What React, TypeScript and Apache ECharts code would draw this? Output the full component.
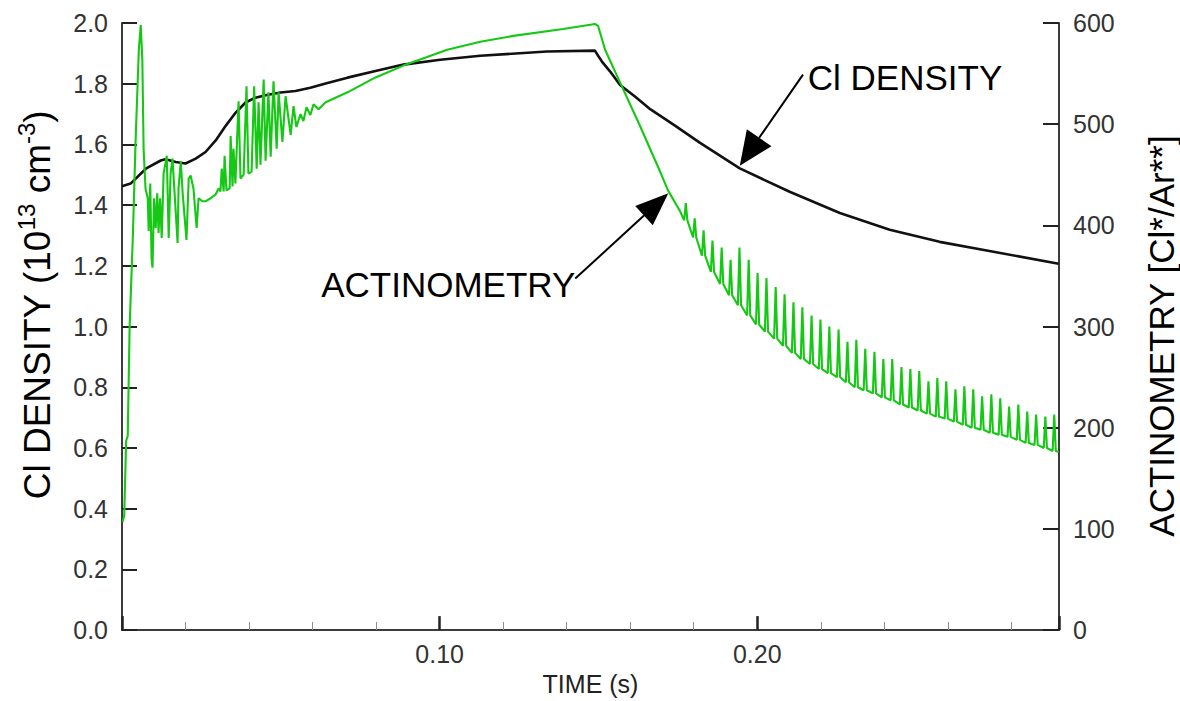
import React, { useEffect, useRef } from "react";
import * as echarts from "echarts";

// ---------- DATA ----------
// Cl density, left axis [10^13 cm^-3], time in s
const clDensity: [number, number][] = [
  [0.0, 1.462], [0.0027, 1.471], [0.0075, 1.52], [0.0122, 1.547], [0.0137, 1.551],
  [0.0169, 1.542], [0.02, 1.537], [0.0232, 1.553], [0.0263, 1.575], [0.0295, 1.613],
  [0.0327, 1.662], [0.0358, 1.705], [0.0389, 1.738], [0.042, 1.754], [0.0452, 1.762],
  [0.0499, 1.771], [0.0546, 1.776], [0.0593, 1.787], [0.0641, 1.801], [0.071, 1.82],
  [0.0798, 1.842], [0.0886, 1.863], [0.1002, 1.879], [0.1128, 1.892], [0.1338, 1.906],
  [0.1489, 1.909], [0.1499, 1.892], [0.1511, 1.873], [0.1537, 1.84], [0.1568, 1.796],
  [0.1616, 1.757], [0.1663, 1.716], [0.1741, 1.662], [0.182, 1.605], [0.1945, 1.521],
  [0.2102, 1.444], [0.226, 1.374], [0.2417, 1.319], [0.2574, 1.279], [0.2731, 1.249],
  [0.2949, 1.207],
];

// Actinometry, right axis [Cl*/Ar**]: start, early oscillations, rise, plateau, drop
const actinoEarly: [number, number][] = [
  [0.0002, 106.7], [0.0007, 113.5], [0.0013, 186.9], [0.0018, 191.8], [0.0024, 299.5],
  [0.0034, 387.6], [0.0043, 485.5], [0.0053, 573.6], [0.0059, 598.0], [0.0064, 563.8],
  [0.0068, 475.7], [0.0074, 436.5], [0.0081, 426.8], [0.0084, 394.5], [0.0089, 441.4],
  [0.0093, 368.0], [0.0096, 358.2], [0.0101, 426.8], [0.0106, 397.4], [0.0111, 431.7],
  [0.0115, 392.5], [0.012, 426.8], [0.0125, 387.6], [0.0131, 451.2], [0.0141, 468.8],
  [0.0147, 387.6], [0.0153, 451.2], [0.0159, 465.9], [0.0175, 382.7], [0.0178, 436.5],
  [0.0185, 463.0], [0.0191, 431.7], [0.0203, 385.6], [0.021, 446.3], [0.0216, 449.3],
  [0.0225, 436.5], [0.0235, 397.4], [0.0241, 426.8], [0.0254, 423.8], [0.0263, 423.8],
  [0.0279, 426.8], [0.0295, 430.7], [0.0304, 436.5], [0.031, 433.6], [0.0314, 456.1],
  [0.032, 433.6], [0.0323, 468.8], [0.0329, 434.6], [0.0339, 436.5], [0.0342, 488.4],
  [0.0348, 438.5], [0.0351, 475.7], [0.0357, 441.4], [0.0367, 522.7], [0.0373, 446.3],
  [0.0383, 450.2], [0.0392, 537.4], [0.0398, 451.2], [0.0408, 453.2], [0.0416, 537.4],
  [0.0424, 456.1], [0.043, 521.7], [0.0436, 460.0], [0.0446, 544.2], [0.0452, 464.0],
  [0.0461, 531.5], [0.0468, 467.9], [0.0477, 542.3], [0.0487, 475.7], [0.0493, 531.5],
  [0.0505, 482.5], [0.0515, 527.6], [0.0531, 489.4], [0.054, 517.8], [0.0549, 497.2],
  [0.0562, 510.0], [0.0571, 503.1], [0.0581, 516.8], [0.0593, 509.0], [0.0603, 519.7],
  [0.0619, 514.8], [0.0641, 521.7], [0.071, 531.5], [0.0798, 546.2], [0.0886, 557.9],
  [0.1024, 573.6], [0.1128, 581.4], [0.1232, 587.3], [0.1389, 594.1], [0.1489, 599.0],
  [0.1499, 597.1], [0.1521, 573.6], [0.1568, 541.3], [0.1631, 498.2], [0.1694, 453.2],
  [0.1719, 434.6], [0.1757, 414.0],
];

// Decay region: each spike as [time, base value, spike top]
const actinoSpikes: [number, number, number][] = [
  [0.177, 405, 422], [0.1798, 388, 407], [0.1826, 370, 395], [0.1854, 354, 385],
  [0.1883, 342, 378], [0.1911, 331, 366], [0.1939, 321, 378], [0.1968, 311, 366],
  [0.1996, 302, 353], [0.2024, 295, 348], [0.2053, 288, 339], [0.2081, 281, 332],
  [0.2109, 274, 324], [0.2137, 268, 319], [0.2166, 263, 311], [0.2194, 258, 307],
  [0.2222, 254, 300], [0.2251, 250, 297], [0.2279, 245, 285], [0.2307, 240, 287],
  [0.2335, 237, 278], [0.2364, 234, 275], [0.2392, 230, 268], [0.242, 227, 268],
  [0.2449, 223, 260], [0.2477, 220, 258], [0.2505, 217, 256], [0.2534, 214, 246],
  [0.2562, 211, 249], [0.259, 209, 246], [0.2619, 206, 238], [0.2647, 203, 241],
  [0.2675, 200, 238], [0.2703, 198, 231], [0.2732, 195, 233], [0.276, 193, 229],
  [0.2788, 191, 221], [0.2817, 188, 223], [0.2845, 185, 216], [0.2873, 183, 213],
  [0.2902, 180, 211], [0.293, 177, 213],
];
const actinoEnd: [number, number][] = [[0.2949, 176]];

// Axis ranges / ticks
const timeRange = [0, 0.295];
const densityRange = [0, 2.0];
const actinoRange = [0, 600];

// Annotations (left-axis data coordinates)
const clLabel = { text: "Cl DENSITY", at: [0.2159, 1.821] as [number, number] };
const clArrow = { from: [0.2144, 1.83] as [number, number], to: [0.1945, 1.53] as [number, number] };
const actLabel = { text: "ACTINOMETRY", at: [0.1427, 1.139] as [number, number] };
const actArrow = { from: [0.1427, 1.158] as [number, number], to: [0.172, 1.439] as [number, number] };

const FONT = "'Liberation Sans', Arial, Helvetica, sans-serif";

function buildActino(): [number, number][] {
  const pts: [number, number][] = [...actinoEarly];
  for (const [t, lo, hi] of actinoSpikes) {
    pts.push([t, lo], [t + 0.0005, hi], [t + 0.001, lo]);
  }
  pts.push(...actinoEnd);
  return pts;
}

export default function App() {
  const ref = useRef<HTMLDivElement>(null);
  useEffect(() => {
    if (!ref.current) return;
    const chart = echarts.init(ref.current, undefined, { renderer: "svg" });
    const axisLine = { show: true, lineStyle: { color: "#3c3c3c", width: 2 } };
    const labelStyle = { fontSize: 25, color: "#333", fontFamily: FONT };
    chart.setOption({
      animation: false,
      backgroundColor: "#fff",
      textStyle: { fontFamily: FONT },
      grid: { left: 122, right: 121, top: 23, bottom: 65, containLabel: false },
      xAxis: {
        type: "value",
        min: timeRange[0],
        max: timeRange[1],
        interval: 0.1,
        axisLine,
        axisTick: { show: true, inside: true, length: 14, lineStyle: { color: "#222", width: 2.5 } },
        minorTick: { show: true, splitNumber: 5, length: 8, lineStyle: { color: "#8a8a8a", width: 1 } },
        axisLabel: {
          ...labelStyle,
          margin: 11,
          formatter: (v: number) => (v > 0.001 && v < 0.29 ? v.toFixed(2) : ""),
        },
        splitLine: { show: false },
        name: "TIME (s)",
        nameLocation: "middle",
        nameGap: 35,
        nameTextStyle: { fontSize: 25, color: "#222", fontFamily: FONT },
      },
      yAxis: [
        {
          type: "value",
          position: "left",
          min: densityRange[0],
          max: densityRange[1],
          interval: 0.2,
          axisLine,
          axisTick: { show: true, inside: true, length: 15, lineStyle: { color: "#222", width: 2 } },
          axisLabel: { ...labelStyle, margin: 14, formatter: (v: number) => v.toFixed(1) },
          splitLine: { show: false },
        },
        {
          type: "value",
          position: "right",
          min: actinoRange[0],
          max: actinoRange[1],
          interval: 100,
          axisLine,
          axisTick: { show: true, inside: true, length: 16, lineStyle: { color: "#222", width: 2 } },
          axisLabel: { ...labelStyle, margin: 14, formatter: (v: number) => String(v) },
          splitLine: { show: false },
        },
      ],
      series: [
        {
          name: "Cl DENSITY",
          type: "line",
          yAxisIndex: 0,
          data: clDensity,
          showSymbol: false,
          smooth: false,
          lineStyle: { color: "#111", width: 2.6 },
          z: 2,
        },
        {
          name: "ACTINOMETRY",
          type: "line",
          yAxisIndex: 1,
          data: buildActino(),
          showSymbol: false,
          lineStyle: { color: "#14c814", width: 2.1 },
          z: 3,
        },
      ],
    });

    const px = (p: [number, number]) => chart.convertToPixel({ seriesIndex: 0 }, p) as number[];
    const arrow = (a: { from: [number, number]; to: [number, number] }, headLen: number, headW: number) => {
      const p0 = px(a.from);
      const p1 = px(a.to);
      const dx = p1[0] - p0[0];
      const dy = p1[1] - p0[1];
      const len = Math.hypot(dx, dy);
      const ux = dx / len, uy = dy / len;
      const nx = -uy, ny = ux;
      const bx = p1[0] - ux * headLen, by = p1[1] - uy * headLen;
      return [
        { type: "line", shape: { x1: p0[0], y1: p0[1], x2: bx, y2: by }, style: { stroke: "#000", lineWidth: 2 }, z: 10 },
        {
          type: "polygon",
          shape: { points: [[p1[0], p1[1]], [bx + (nx * headW) / 2, by + (ny * headW) / 2], [bx - (nx * headW) / 2, by - (ny * headW) / 2]] },
          style: { fill: "#000" },
          z: 10,
        },
      ];
    };
    const clp = px(clLabel.at);
    const acp = px(actLabel.at);
    chart.setOption({
      graphic: [
        {
          type: "text",
          x: 37,
          y: 305,
          rotation: Math.PI / 2,
          style: {
            text: "{m|Cl DENSITY (10}{s|13}{m| cm}{s|-3}{m|)}",
            align: "center",
            verticalAlign: "middle",
            fill: "#000",
            rich: {
              m: { fontSize: 37, fontFamily: FONT, lineHeight: 46, verticalAlign: "middle", fill: "#000" },
              s: { fontSize: 24, fontFamily: FONT, lineHeight: 24, verticalAlign: "top", fill: "#000" },
            },
          },
        },
        {
          type: "text",
          x: 1161,
          y: 336,
          rotation: Math.PI / 2,
          style: {
            text: "ACTINOMETRY [Cl*/Ar**]",
            align: "center",
            verticalAlign: "middle",
            fill: "#000",
            fontSize: 35,
            fontFamily: FONT,
          },
        },
        {
          type: "text",
          x: clp[0],
          y: clp[1],
          style: { text: clLabel.text, align: "left", verticalAlign: "middle", fill: "#000", fontSize: 35, fontFamily: FONT },
          z: 10,
        },
        {
          type: "text",
          x: acp[0],
          y: acp[1],
          style: { text: actLabel.text, align: "right", verticalAlign: "middle", fill: "#000", fontSize: 35, fontFamily: FONT },
          z: 10,
        },
        ...arrow(clArrow, 34, 30),
        ...arrow(actArrow, 33, 26),
      ],
    });
    return () => chart.dispose();
  }, []);
  return <div ref={ref} style={{ position: "fixed", left: 0, top: 0, width: 1180, height: 701 }} />;
}
